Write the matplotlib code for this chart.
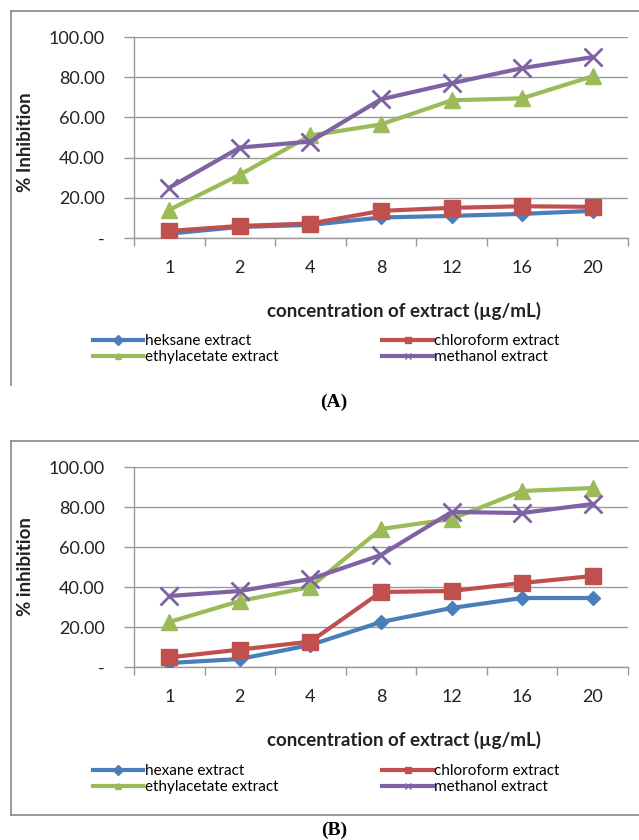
import matplotlib
matplotlib.use("Agg")
import matplotlib.pyplot as plt
from matplotlib.lines import Line2D

plt.rcParams['font.family'] = ['Lato', 'DejaVu Sans']

concentrations = ["1", "2", "4", "8", "12", "16", "20"]
y_ticks = [0, 20, 40, 60, 80, 100]
y_tick_labels = ["-", "20.00", "40.00", "60.00", "80.00", "100.00"]

# Panel A
a_hexane = [2.2, 5.5, 6.5, 10.2, 11.0, 12.0, 13.5]
a_chloroform = [3.5, 6.0, 7.2, 13.5, 15.0, 15.8, 15.5]
a_ethylacetate = [14.0, 31.5, 51.0, 56.5, 68.5, 69.5, 80.5]
a_methanol = [25.0, 45.0, 48.0, 69.0, 77.0, 84.5, 90.0]
a_labels = ["heksane extract", "chloroform extract", "ethylacetate extract", "methanol extract"]

# Panel B
b_hexane = [2.0, 4.0, 11.0, 22.5, 29.5, 34.5, 34.5]
b_chloroform = [4.8, 8.7, 12.7, 37.5, 38.0, 42.0, 45.5]
b_ethylacetate = [22.5, 33.0, 40.0, 69.0, 74.0, 88.0, 89.5]
b_methanol = [35.5, 38.0, 44.0, 56.0, 77.5, 77.0, 81.5]
b_labels = ["hexane extract", "chloroform extract", "ethylacetate extract", "methanol extract"]

colors = ["#4A7EBB", "#C0504D", "#9BBB59", "#7F62A4"]
markers = ["D", "s", "^", "x"]
msizes = [7.5, 11, 11, 13]

W, H = 639, 840
fig = plt.figure(figsize=(W / 100, H / 100), dpi=100)


def fx(px):
    return px / W


def fy(py):
    return 1 - py / H


def panel(top, bottom, series, labels, ylabel, ylabel_y, xlabel_y, legend_y, frame, caption, caption_y):
    ax = fig.add_axes([fx(134), fy(bottom), fx(628) - fx(134), fy(top) - fy(bottom)])
    x = list(range(len(concentrations)))
    for vals, c, m, ms in zip(series, colors, markers, msizes):
        ax.plot(x, vals, color=c, lw=3.0, marker=m, markersize=ms,
                markeredgewidth=2.0 if m == "x" else 1.0, markeredgecolor=c,
                markerfacecolor=c, solid_joinstyle='round', zorder=3)
    ax.set_xlim(-0.5, len(concentrations) - 0.5)
    ax.set_ylim(0, 100)
    ax.set_yticks(y_ticks)
    ax.set_yticklabels(y_tick_labels)
    ax.set_xticks(x)
    ax.set_xticklabels(concentrations)
    ax.set_xticks([i - 0.5 for i in range(len(concentrations) + 1)], minor=True)
    ax.tick_params(axis='x', which='major', length=0, pad=16, labelsize=13, colors='#222222')
    ax.tick_params(axis='x', which='minor', length=6, direction='out', color='#999999', width=1)
    ax.tick_params(axis='y', which='major', length=7, direction='out', color='#999999', width=1,
                   pad=14, labelsize=13, labelcolor='#222222')
    for s in ['top', 'right']:
        ax.spines[s].set_visible(False)
    for s in ['left', 'bottom']:
        ax.spines[s].set_color('#999999')
        ax.spines[s].set_linewidth(1)
    ax.yaxis.grid(True, color='#999999', lw=1)
    ax.set_axisbelow(True)

    fig.text(fx(26), fy(ylabel_y), ylabel, rotation=90, ha='center', va='center',
             fontsize=13.5, fontweight='bold', color='#222222')
    fig.text(fx(404), fy(xlabel_y), "concentration of extract (\u00b5g/mL)", ha='center', va='center',
             fontsize=13.5, fontweight='bold', color='#222222')

    handles = []
    for c, m in zip(colors, markers):
        handles.append(Line2D([], [], color=c, lw=3, marker=m, markersize=5,
                              markerfacecolor=c, markeredgecolor=c))
    order = [0, 2, 1, 3]
    fig.legend([handles[i] for i in order], [labels[i] for i in order],
               loc='upper left', bbox_to_anchor=(fx(93), fy(legend_y)), ncol=2,
               frameon=False, fontsize=11, handlelength=3.3, handletextpad=0.1,
               columnspacing=6.8, labelspacing=0.15, borderpad=0, borderaxespad=0)

    fig.add_artist(Line2D([fx(11), fx(11)], [fy(frame[0]), fy(frame[1])], color='#888888', lw=1.2))
    fig.add_artist(Line2D([fx(11), fx(W)], [fy(frame[0]), fy(frame[0])], color='#888888', lw=1.2))
    if frame[2]:
        fig.add_artist(Line2D([fx(11), fx(W)], [fy(frame[1]), fy(frame[1])], color='#888888', lw=1.2))

    fig.text(fx(334), fy(caption_y), caption, ha='center', va='center', fontsize=14,
             fontweight='bold', family=['Liberation Serif', 'DejaVu Serif'])
    return ax


panel(37, 238, [a_hexane, a_chloroform, a_ethylacetate, a_methanol], a_labels,
      "% Inhibition", 142, 311, 334, (11, 385, False), "(A)", 402)
panel(467, 667, [b_hexane, b_chloroform, b_ethylacetate, b_methanol], b_labels,
      "% inhibition", 567, 740, 764, (441, 815, True), "(B)", 830)

fig.savefig("out.png", dpi=100)
